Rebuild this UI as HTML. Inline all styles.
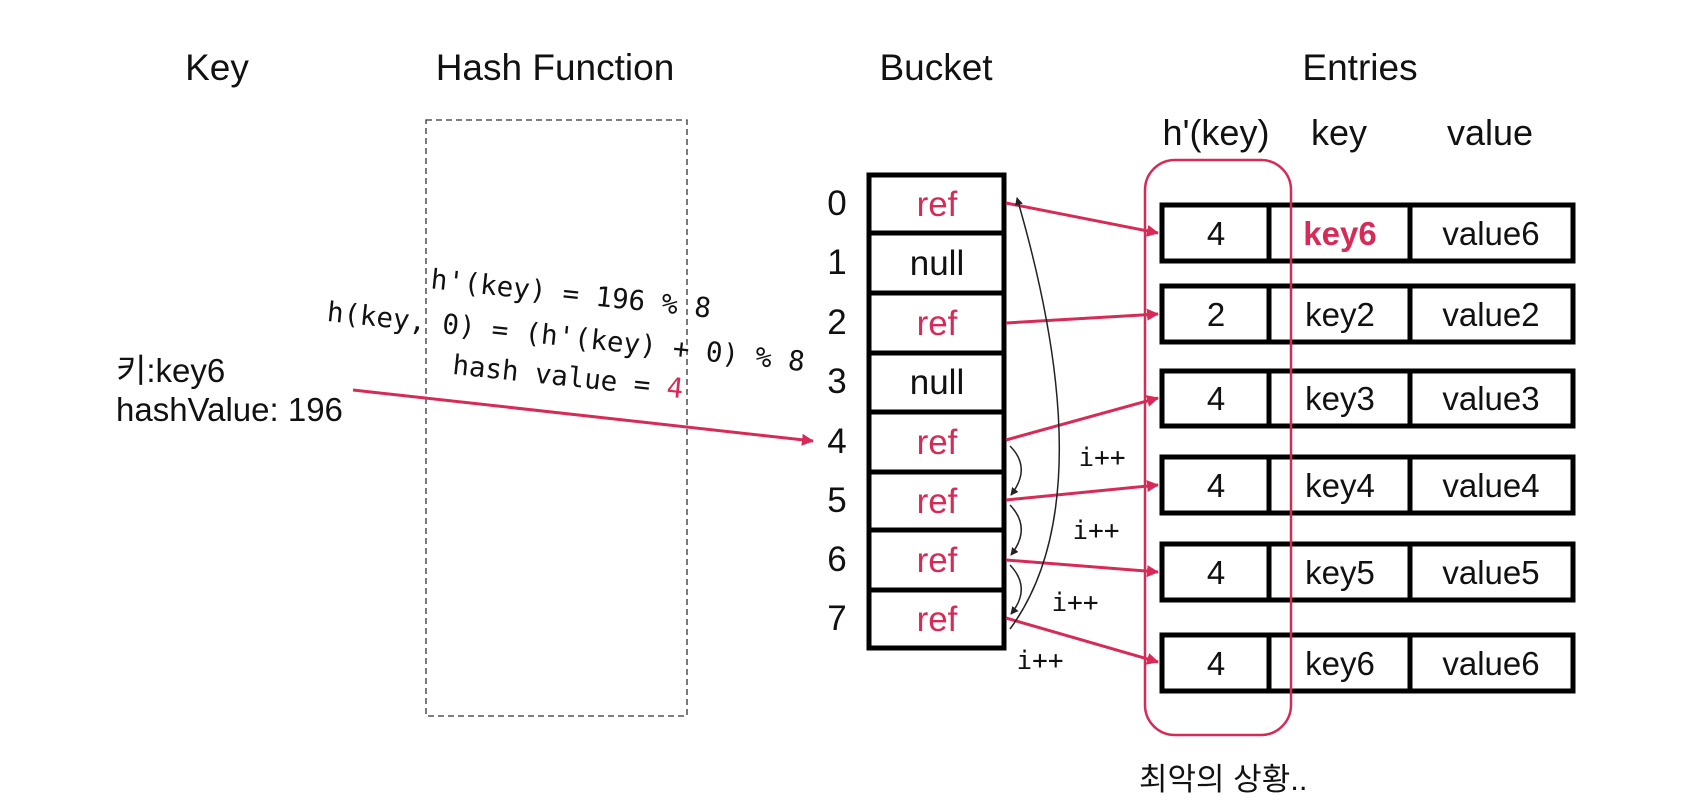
<!DOCTYPE html>
<html><head><meta charset="utf-8"><style>
html,body{margin:0;padding:0;background:#fff;}
svg{display:block;}
.s{font-family:"Liberation Sans","Noto Sans CJK KR",sans-serif;}
.m{font-family:"DejaVu Sans Mono","Liberation Mono",monospace;}
</style></head><body>
<svg width="1687" height="802" viewBox="0 0 1687 802" xmlns="http://www.w3.org/2000/svg">
<defs>
<marker id="ra" markerWidth="12" markerHeight="12" refX="11" refY="6" orient="auto" markerUnits="userSpaceOnUse" viewBox="0 0 12 12"><path d="M0,0 L12,6 L0,12 z" fill="#d62a57"/></marker>
<marker id="ba" markerWidth="8" markerHeight="8" refX="7" refY="4" orient="auto" markerUnits="userSpaceOnUse" viewBox="0 0 8 8"><path d="M0,0 L8,4 L0,8 z" fill="#222"/></marker>
</defs>
<g class="s" font-size="37" fill="#111" text-anchor="middle">
<text x="217" y="80">Key</text>
<text x="555" y="80">Hash Function</text>
<text x="936" y="80">Bucket</text>
<text x="1360" y="80">Entries</text>
</g>
<rect x="426" y="120" width="261" height="596" fill="none" stroke="#333" stroke-width="1.3" stroke-dasharray="6,4"/>
<g class="s" font-size="33" fill="#111">
<text x="116" y="382">키:key6</text>
<text x="116" y="421">hashValue: 196</text>
</g>
<g class="m" font-size="27.5" fill="#111" text-anchor="middle">
<text transform="translate(570,303) rotate(6)">h'(key) = 196 % 8</text>
<text transform="translate(565,346) rotate(6)">h(key, 0) = (h'(key) + 0) % 8</text>
<text transform="translate(567,386) rotate(6)">hash value = <tspan fill="#d62a57">4</tspan></text>
</g>
<line x1="353" y1="390" x2="813" y2="441" stroke="#d62a57" stroke-width="3" marker-end="url(#ra)"/>
<g fill="none" stroke="#000" stroke-width="5">
<rect x="869" y="175" width="135" height="473"/>
<line x1="869" y1="233" x2="1004" y2="233"/>
<line x1="869" y1="293" x2="1004" y2="293"/>
<line x1="869" y1="353" x2="1004" y2="353"/>
<line x1="869" y1="412" x2="1004" y2="412"/>
<line x1="869" y1="472" x2="1004" y2="472"/>
<line x1="869" y1="530" x2="1004" y2="530"/>
<line x1="869" y1="590" x2="1004" y2="590"/>
</g>
<g class="s" font-size="35" text-anchor="middle">
<g fill="#111"><text x="837" y="215">0</text><text x="837" y="274">1</text><text x="837" y="334">2</text><text x="837" y="393">3</text><text x="837" y="453">4</text><text x="837" y="512">5</text><text x="837" y="571">6</text><text x="837" y="630">7</text></g>
<text x="937" y="216" fill="#d62a57">ref</text>
<text x="937" y="275" fill="#111">null</text>
<text x="937" y="335" fill="#d62a57">ref</text>
<text x="937" y="394" fill="#111">null</text>
<text x="937" y="454" fill="#d62a57">ref</text>
<text x="937" y="513" fill="#d62a57">ref</text>
<text x="937" y="572" fill="#d62a57">ref</text>
<text x="937" y="631" fill="#d62a57">ref</text>
</g>
<g fill="none" stroke="#000" stroke-width="5">
<rect x="1162" y="205" width="411" height="56"/><line x1="1269" y1="205" x2="1269" y2="261"/><line x1="1410" y1="205" x2="1410" y2="261"/>
<rect x="1162" y="286" width="411" height="56"/><line x1="1269" y1="286" x2="1269" y2="342"/><line x1="1410" y1="286" x2="1410" y2="342"/>
<rect x="1162" y="371" width="411" height="55"/><line x1="1269" y1="371" x2="1269" y2="426"/><line x1="1410" y1="371" x2="1410" y2="426"/>
<rect x="1162" y="457" width="411" height="56"/><line x1="1269" y1="457" x2="1269" y2="513"/><line x1="1410" y1="457" x2="1410" y2="513"/>
<rect x="1162" y="544" width="411" height="56"/><line x1="1269" y1="544" x2="1269" y2="600"/><line x1="1410" y1="544" x2="1410" y2="600"/>
<rect x="1162" y="635" width="411" height="56"/><line x1="1269" y1="635" x2="1269" y2="691"/><line x1="1410" y1="635" x2="1410" y2="691"/>
</g>
<g class="s" font-size="36" fill="#111" text-anchor="middle">
<text x="1216" y="145">h'(key)</text><text x="1339" y="145">key</text><text x="1490" y="145">value</text>
</g>
<g class="s" font-size="33" fill="#111" text-anchor="middle">
<text x="1216" y="245">4</text><text x="1340" y="245" fill="#d62a57" font-weight="bold">key6</text><text x="1491" y="245">value6</text>
<text x="1216" y="326">2</text><text x="1340" y="326">key2</text><text x="1491" y="326">value2</text>
<text x="1216" y="410">4</text><text x="1340" y="410">key3</text><text x="1491" y="410">value3</text>
<text x="1216" y="497">4</text><text x="1340" y="497">key4</text><text x="1491" y="497">value4</text>
<text x="1216" y="584">4</text><text x="1340" y="584">key5</text><text x="1491" y="584">value5</text>
<text x="1216" y="675">4</text><text x="1340" y="675">key6</text><text x="1491" y="675">value6</text>
</g>
<text class="s" x="1139" y="790" font-size="31" fill="#111">최악의 상황..</text>
<rect x="1145" y="160" width="146" height="575" rx="30" ry="30" fill="none" stroke="#d62a57" stroke-width="2.5"/>
<g stroke="#d62a57" stroke-width="3">
<line x1="1006" y1="203" x2="1158" y2="233" marker-end="url(#ra)"/>
<line x1="1006" y1="323" x2="1158" y2="314" marker-end="url(#ra)"/>
<line x1="1006" y1="440" x2="1158" y2="398" marker-end="url(#ra)"/>
<line x1="1006" y1="500" x2="1158" y2="485" marker-end="url(#ra)"/>
<line x1="1006" y1="560" x2="1158" y2="572" marker-end="url(#ra)"/>
<line x1="1006" y1="618" x2="1158" y2="662" marker-end="url(#ra)"/>
</g>
<g fill="none" stroke="#222" stroke-width="1.5">
<path d="M1010,446 Q1032,468 1011,495" marker-end="url(#ba)"/>
<path d="M1010,505 Q1032,528 1011,555" marker-end="url(#ba)"/>
<path d="M1010,565 Q1032,588 1011,614" marker-end="url(#ba)"/>
<path d="M1010,629 Q1105,500 1017,198" marker-end="url(#ba)"/>
</g>
<g class="m" font-size="26" fill="#111" text-anchor="middle">
<text x="1102" y="466">i++</text>
<text x="1096" y="539">i++</text>
<text x="1075" y="611">i++</text>
<text x="1040" y="669">i++</text>
</g>
</svg>
</body></html>
